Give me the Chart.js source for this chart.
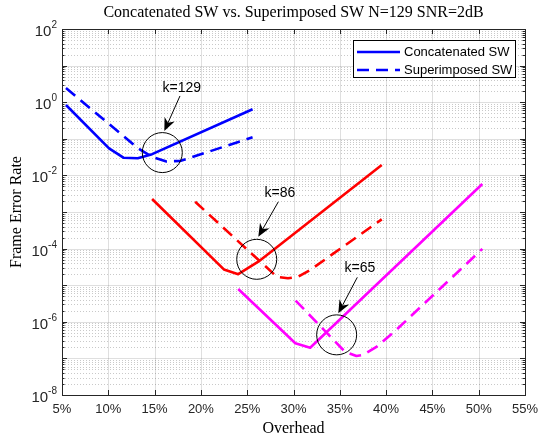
<!DOCTYPE html>
<html>
<head>
<meta charset="utf-8">
<title>Concatenated SW vs. Superimposed SW</title>
<script src="https://cdn.jsdelivr.net/npm/chart.js@4.4.1/dist/chart.umd.min.js"></script>
<style>
    html, body { margin: 0; padding: 0; background: #fff; }
    #wrap { width: 539px; height: 439px; }
</style>
</head>
<body>
<div id="wrap"><canvas id="ferChart" width="539" height="439"></canvas></div>
<script>
// overhead in %, frame error rate
const blueSolidX = [5.43, 10.08, 11.63, 13.18, 14.73, 25.58];
const blueSolidY = [0.84, 0.055, 0.0305, 0.0295, 0.038, 0.64];
const blueDashX = [5.43, 13.18, 14.73, 16.28, 17.83, 25.58];
const blueDashY = [2.44, 0.056, 0.032, 0.024, 0.025, 0.11];

const redSolidX = [14.73, 22.48, 24.03, 26.2, 39.53];
const redSolidY = [2.26e-3, 2.7e-5, 2.0e-5, 4.4e-5, 0.0192];
const redDashX = [19.38, 28.2, 29.4, 30.5, 31.8, 39.53];
const redDashY = [1.9e-3, 1.7e-5, 1.55e-5, 1.7e-5, 2.6e-5, 6.3e-4];

const magSolidX = [24.03, 30.2, 31.8, 50.39];
const magSolidY = [7.9e-6, 2.6e-7, 1.96e-7, 5.8e-3];
const magDashX = [30.23, 35.56, 36.8, 37.5, 39.0, 41.1, 50.39];
const magDashY = [3.8e-6, 1.52e-7, 1.16e-7, 1.24e-7, 2.1e-7, 6.0e-7, 9.8e-5];

const xTicks = [5, 10, 15, 20, 25, 30, 35, 40, 45, 50, 55];
const yTickExps = [-8, -6, -4, -2, 0, 2];
const legendLabels = ["Concatenated SW", "Superimposed SW"];

// circle + arrow annotations, in data units
const annotLabels = ["k=129", "k=86", "k=65"];
const circleX = [15.83, 26.03, 34.66];
const circleY = [0.042, 5.1e-5, 4.4e-7];
const arrowFromX = [17.74, 28.36, 36.89];
const arrowFromY = [1.48, 1.9e-3, 1.64e-5];
const arrowToX = [16.05, 26.2, 34.84];
const arrowToY = [0.163, 2.1e-4, 1.7e-6];
const labelX = [17.93, 28.54, 37.18];
const labelY = [2.49, 3.2e-3, 2.9e-5];

const SANS = "'Liberation Sans', Arial, sans-serif";
const SERIF = "'Liberation Serif', 'Times New Roman', serif";
const AXIS_COLOR = "#262626";

function toPoints(xs, ys) {
    return xs.map((v, i) => ({ x: v, y: ys[i] }));
}

function makeSet(label, xs, ys, color, dashed) {
    return {
        label: label,
        data: toPoints(xs, ys),
        borderColor: color,
        backgroundColor: color,
        borderWidth: 2.6,
        borderDash: dashed ? [12, 7] : [],
        borderJoinStyle: "round",
        pointRadius: 0,
        tension: 0,
        fill: false
    };
}

function drawArrow(ctx, x0, y0, x1, y1) {
    const ang = Math.atan2(y1 - y0, x1 - x0);
    const len = 13, half = 5.5, notch = 9;
    const bx = x1 - notch * Math.cos(ang), by = y1 - notch * Math.sin(ang);
    ctx.beginPath();
    ctx.moveTo(x0, y0);
    ctx.lineTo(bx, by);
    ctx.stroke();
    const cx = x1 - len * Math.cos(ang), cy = y1 - len * Math.sin(ang);
    const px = -Math.sin(ang) * half, py = Math.cos(ang) * half;
    ctx.beginPath();
    ctx.moveTo(x1, y1);
    ctx.lineTo(cx + px, cy + py);
    ctx.lineTo(bx, by);
    ctx.lineTo(cx - px, cy - py);
    ctx.closePath();
    ctx.fill();
}

const matlabLook = {
    id: "matlabLook",
    beforeDatasetsDraw(chart) {
        const { ctx, chartArea: a, scales: { x, y } } = chart;
        ctx.save();
        ctx.lineWidth = 1;
        // minor log grid (dotted)
        ctx.strokeStyle = "rgba(38,38,38,0.25)";
        ctx.setLineDash([1, 2]);
        for (let e = -8; e < 2; e++) {
            for (let m = 2; m <= 9; m++) {
                const py = Math.round(y.getPixelForValue(m * Math.pow(10, e))) + 0.5;
                ctx.beginPath();
                ctx.moveTo(a.left, py);
                ctx.lineTo(a.right, py);
                ctx.stroke();
            }
        }
        // major grid
        ctx.setLineDash([]);
        ctx.strokeStyle = "rgba(38,38,38,0.15)";
        xTicks.forEach(t => {
            const px = Math.round(x.getPixelForValue(t)) + 0.5;
            ctx.beginPath();
            ctx.moveTo(px, a.top);
            ctx.lineTo(px, a.bottom);
            ctx.stroke();
        });
        for (let e = -8; e <= 2; e++) {
            const py = Math.round(y.getPixelForValue(Math.pow(10, e))) + 0.5;
            ctx.beginPath();
            ctx.moveTo(a.left, py);
            ctx.lineTo(a.right, py);
            ctx.stroke();
        }
        ctx.restore();
    },
    afterDatasetsDraw(chart) {
        const { ctx, chartArea: a, scales: { x, y } } = chart;
        ctx.save();
        ctx.strokeStyle = AXIS_COLOR;
        ctx.fillStyle = AXIS_COLOR;
        ctx.lineWidth = 1;
        // box
        ctx.strokeRect(Math.round(a.left) + 0.5, Math.round(a.top) + 0.5,
            Math.round(a.right - a.left), Math.round(a.bottom - a.top));
        // x ticks top + bottom
        xTicks.forEach(t => {
            const px = Math.round(x.getPixelForValue(t)) + 0.5;
            ctx.beginPath();
            ctx.moveTo(px, a.bottom); ctx.lineTo(px, a.bottom - 5);
            ctx.moveTo(px, a.top); ctx.lineTo(px, a.top + 5);
            ctx.stroke();
        });
        // y ticks left + right, with minor ones
        for (let e = -8; e <= 2; e++) {
            for (let m = 1; m <= 9; m++) {
                if (e === 2 && m > 1) break;
                const py = Math.round(y.getPixelForValue(m * Math.pow(10, e))) + 0.5;
                const len = m === 1 ? 5 : 2.5;
                ctx.beginPath();
                ctx.moveTo(a.left, py); ctx.lineTo(a.left + len, py);
                ctx.moveTo(a.right, py); ctx.lineTo(a.right - len, py);
                ctx.stroke();
            }
        }
        // y tick labels 10^n
        yTickExps.forEach(e => {
            const py = y.getPixelForValue(Math.pow(10, e));
            const expText = e < 0 ? "-" + (-e) : String(e);
            ctx.font = "10px " + SANS;
            const ew = ctx.measureText(expText).width;
            ctx.textAlign = "left";
            ctx.textBaseline = "alphabetic";
            ctx.fillText(expText, a.left - 5 - ew, py - 1);
            ctx.font = "15px " + SANS;
            ctx.textAlign = "right";
            ctx.fillText("10", a.left - 5 - ew, py + 7);
        });
        // title and axis titles
        ctx.fillStyle = "#000";
        ctx.textAlign = "center";
        ctx.textBaseline = "middle";
        ctx.font = "16px " + SERIF;
        ctx.fillText("Concatenated SW vs. Superimposed SW N=129 SNR=2dB", (a.left + a.right) / 2, 13);
        ctx.fillText("Overhead", (a.left + a.right) / 2, 429);
        ctx.save();
        ctx.translate(17, (a.top + a.bottom) / 2);
        ctx.rotate(-Math.PI / 2);
        ctx.fillText("Frame Error Rate", 0, 0);
        ctx.restore();

        // circles, arrows, k labels
        ctx.strokeStyle = "#000";
        ctx.fillStyle = "#000";
        annotLabels.forEach((label, i) => {
            const cx = x.getPixelForValue(circleX[i]);
            const cy = y.getPixelForValue(circleY[i]);
            ctx.beginPath();
            ctx.arc(cx, cy, 20, 0, 2 * Math.PI);
            ctx.stroke();
            drawArrow(ctx,
                x.getPixelForValue(arrowFromX[i]), y.getPixelForValue(arrowFromY[i]),
                x.getPixelForValue(arrowToX[i]), y.getPixelForValue(arrowToY[i]));
            ctx.font = "14px " + SANS;
            ctx.textAlign = "center";
            ctx.textBaseline = "middle";
            ctx.fillText(label, x.getPixelForValue(labelX[i]), y.getPixelForValue(labelY[i]));
        });

        // legend box
        const lx = 353, ly = 40, lw = 162, lh = 37;
        ctx.fillStyle = "#fff";
        ctx.fillRect(lx, ly, lw, lh);
        ctx.strokeStyle = "#000";
        ctx.strokeRect(lx + 0.5, ly + 0.5, lw, lh);
        ctx.lineWidth = 2.6;
        ctx.strokeStyle = "#0000ff";
        [false, true].forEach((dashed, i) => {
            const ry = ly + 12 + i * 18;
            ctx.setLineDash(dashed ? [12, 7] : []);
            ctx.beginPath();
            ctx.moveTo(357, ry);
            ctx.lineTo(400, ry);
            ctx.stroke();
            ctx.setLineDash([]);
            ctx.fillStyle = "#000";
            ctx.font = "13px " + SANS;
            ctx.textAlign = "left";
            ctx.textBaseline = "middle";
            ctx.fillText(legendLabels[i], 404, ry);
        });
        ctx.restore();
    }
};

const ctx = document.getElementById("ferChart").getContext("2d");
new Chart(ctx, {
    type: "line",
    data: {
        datasets: [
            makeSet("Concatenated SW", blueSolidX, blueSolidY, "#0000ff", false),
            makeSet("Superimposed SW", blueDashX, blueDashY, "#0000ff", true),
            makeSet("Concatenated k=86", redSolidX, redSolidY, "#ff0000", false),
            makeSet("Superimposed k=86", redDashX, redDashY, "#ff0000", true),
            makeSet("Concatenated k=65", magSolidX, magSolidY, "#ff00ff", false),
            makeSet("Superimposed k=65", magDashX, magDashY, "#ff00ff", true)
        ]
    },
    options: {
        responsive: false,
        animation: false,
        devicePixelRatio: 1,
        layout: { padding: { left: 0, right: 14, top: 29, bottom: 0 } },
        plugins: {
            legend: { display: false },
            title: { display: false },
            tooltip: { enabled: false }
        },
        scales: {
            x: {
                type: "linear",
                min: 5,
                max: 55,
                afterBuildTicks: s => { s.ticks = xTicks.map(v => ({ value: v })); },
                ticks: {
                    callback: v => v + "%",
                    color: AXIS_COLOR,
                    font: { family: SANS, size: 13 },
                    padding: 7,
                    maxRotation: 0
                },
                grid: { display: false, drawTicks: false },
                border: { display: false },
                afterFit: s => { s.height = 44; s.paddingLeft = 0; s.paddingRight = 0; }
            },
            y: {
                type: "logarithmic",
                min: 1e-8,
                max: 1e2,
                ticks: { display: false },
                grid: { display: false, drawTicks: false },
                border: { display: false },
                afterFit: s => { s.width = 62; }
            }
        }
    },
    plugins: [matlabLook]
});
</script>
</body>
</html>
